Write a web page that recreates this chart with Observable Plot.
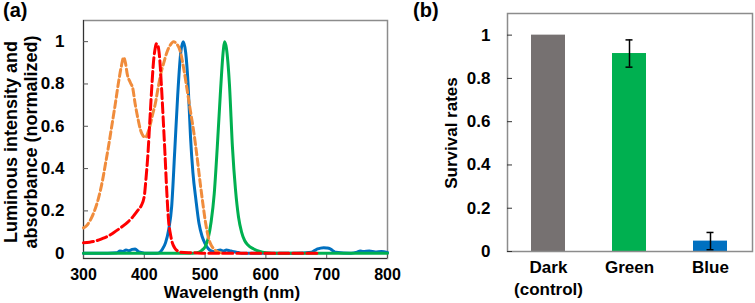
<!DOCTYPE html>
<html><head><meta charset="utf-8">
<script src="https://cdn.jsdelivr.net/npm/d3@7"></script>
<script src="https://cdn.jsdelivr.net/npm/@observablehq/plot@0.6"></script>
<style>
body{margin:0;background:#fff;}
#wrap{position:relative;width:755px;height:303px;overflow:hidden;font-family:"Liberation Sans",Arial,sans-serif;font-weight:bold;color:#000;}
.abs{position:absolute;white-space:nowrap;}
</style></head><body><div id="wrap"></div>
<script>
// ---------- Panel (a) data: spectra (wavelength nm, normalized value) ----------
const blueWl  = [300,320,340,355,360,365,370,375,380,385,390,395,400,420,425,430,435,440,445,450,455,460,464,468,472,476,480,485,490,495,500,505,510,515,520,525,530,535,540,545,550,555,560,600,650,675,680,685,690,695,700,705,710,715,740,750,755,760,770,780,790,800];
const blueVal = [0,0,0,0.002,0.01,0.008,0.015,0.012,0.018,0.02,0.008,0.004,0,0,0.003,0.02,0.05,0.11,0.22,0.48,0.75,0.95,1.0,0.95,0.8,0.55,0.38,0.25,0.14,0.08,0.045,0.022,0.011,0.008,0.012,0.015,0.01,0.015,0.012,0.008,0.006,0.003,0,0,0,0.004,0.012,0.02,0.024,0.026,0.025,0.022,0.012,0.004,0,0.005,0.01,0.008,0.01,0.006,0.008,0.004];

const greenWl  = [300,480,490,495,500,505,510,515,520,525,530,532,535,540,545,550,555,560,565,570,580,590,600,610,800];
const greenVal = [0,0,0.005,0.015,0.03,0.07,0.15,0.28,0.5,0.75,0.96,1.0,0.97,0.8,0.5,0.3,0.17,0.1,0.06,0.04,0.02,0.008,0.002,0,0];

const orangeWl  = [300,305,311,318,325,331,336,342,347,352,358,362,366,369,372,377,381,385,390,394,398,402,406,410,414,418,422,427,432,438,443,448,453,459,465,470,476,481,487,492,497,501,505,509,513,517,522,530];
const orangeVal = [0.12,0.13,0.155,0.2,0.264,0.34,0.42,0.52,0.61,0.7,0.815,0.88,0.925,0.9,0.846,0.807,0.78,0.705,0.63,0.58,0.555,0.547,0.57,0.61,0.66,0.705,0.77,0.846,0.9,0.956,0.985,1.0,0.99,0.956,0.87,0.78,0.67,0.58,0.45,0.33,0.22,0.14,0.08,0.044,0.025,0.013,0.005,0];

const redWl  = [300,310,320,330,340,350,360,370,380,390,395,400,403,406,409,412,415,418,420,422,425,428,431,434,437,440,443,446,450,455,460,480,500,550,600,650,690];
const redVal = [0.049,0.052,0.058,0.068,0.08,0.098,0.118,0.14,0.168,0.205,0.225,0.27,0.36,0.47,0.62,0.77,0.9,0.97,0.99,0.985,0.93,0.8,0.64,0.47,0.29,0.15,0.09,0.05,0.025,0.01,0.004,0.002,0,0,0,0,0];

const aYTicks = [0,0.2,0.4,0.6,0.8,1];
const aYLabels = ["0","0.2","0.4","0.6","0.8","1"];
const aXTicks = [300,400,500,600,700,800];

// ---------- Panel (b) data ----------
const categories = ["Dark","Green","Blue"];
const catLabels  = ["Dark\n(control)","Green","Blue"];
const survival   = [1.0,0.915,0.048];
const survErr    = [0,0.063,0.04];
const barColors  = ["#767171","#00B050","#0070C0"];
const bYTicks = [0,0.2,0.4,0.6,0.8,1];
const bYLabels = ["0","0.2","0.4","0.6","0.8","1"];

const zip = (w, v) => w.map((x, i) => ({w: x, v: v[i]}));
const blue = zip(blueWl, blueVal), green = zip(greenWl, greenVal),
      orange = zip(orangeWl, orangeVal), red = zip(redWl, redVal);

const font = {fontFamily: '"Liberation Sans", Arial, sans-serif', fontSize: "17px", fontWeight: "bold", color: "#000", background: "transparent", overflow: "visible"};

const plotA = Plot.plot({
  width: 390, height: 303, marginLeft: 83, marginRight: 3, marginTop: 20, marginBottom: 45,
  style: font,
  x: {domain: [300, 800]},
  y: {domain: [-0.025, 1.1]},
  marks: [
    Plot.frame({stroke: "#8c8c8c", strokeWidth: 1.5}),
    Plot.ruleX([300], {stroke: "#333", strokeWidth: 1}),
    Plot.ruleY([-0.025], {stroke: "#333", strokeWidth: 1}),
    Plot.axisY({ticks: aYTicks, tickSize: 5, fill: "none", stroke: "#555", dx: 5, label: null}),
    Plot.axisX({ticks: aXTicks, tickSize: 5, fill: "none", stroke: "#555", dy: -5, label: null}),
    Plot.axisY({ticks: aYTicks, tickSize: 0, stroke: "none", tickPadding: 19, tickFormat: d => aYLabels[aYTicks.indexOf(d)], label: null}),
    Plot.axisX({ticks: aXTicks, tickSize: 0, stroke: "none", tickPadding: 10.5, fontSize: 16, tickFormat: d => String(d), label: null}),
    Plot.line(blue, {x: "w", y: "v", stroke: "#0070C0", strokeWidth: 3, curve: "monotone-x"}),
    Plot.line(green, {x: "w", y: "v", stroke: "#00B050", strokeWidth: 3, curve: "monotone-x"}),
    Plot.line(orange, {x: "w", y: "v", stroke: "#F08C3C", strokeWidth: 3, strokeDasharray: "7,3.5", curve: "monotone-x"}),
    Plot.line(red, {x: "w", y: "v", stroke: "#FF0000", strokeWidth: 3, strokeDasharray: "10,4", curve: "monotone-x"})
  ]
});

const barData = categories.map((c, i) => ({c, v: survival[i], e: survErr[i], fill: barColors[i], lo: survival[i] - survErr[i], hi: survival[i] + survErr[i]}));
const errData = barData.filter(d => d.e > 0);

const plotB = Plot.plot({
  width: 365, height: 303, marginLeft: 117, marginRight: 3, marginTop: 13, marginBottom: 52,
  style: font,
  x: {domain: categories, paddingInner: 0.58, paddingOuter: 0.29},
  y: {domain: [0, 1.1]},
  color: {type: "identity"},
  marks: [
    Plot.barY(barData, {x: "c", y: "v", fill: "fill"}),
    Plot.ruleX(errData, {x: "c", y1: "lo", y2: "hi", stroke: "#000", strokeWidth: 1.5}),
    Plot.tickY(errData, {x: "c", y: "lo", stroke: "#000", strokeWidth: 1.5, insetLeft: 13.5, insetRight: 13.5}),
    Plot.tickY(errData, {x: "c", y: "hi", stroke: "#000", strokeWidth: 1.5, insetLeft: 13.5, insetRight: 13.5}),
    Plot.frame({stroke: "#8c8c8c", strokeWidth: 1.5}),
    Plot.axisY({ticks: bYTicks, tickSize: 5, fill: "none", stroke: "#333", dx: 5, label: null}),
    Plot.axisY({ticks: bYTicks, tickSize: 0, stroke: "none", tickPadding: 17, tickFormat: d => bYLabels[bYTicks.indexOf(d)], label: null}),
    Plot.axisX({tickSize: 0, stroke: "none", tickPadding: 7, lineHeight: 1.24, tickFormat: d => catLabels[categories.indexOf(d)], label: null})
  ]
});

const wrap = document.getElementById("wrap");
function place(el, left, top) { const d = document.createElement("div"); d.className = "abs"; d.style.left = left + "px"; d.style.top = top + "px"; d.appendChild(el); wrap.appendChild(d); return d; }
place(plotA, 0, 0);
place(plotB, 390, 0);

function label(text, css) { const d = document.createElement("div"); d.className = "abs"; d.textContent = text; Object.assign(d.style, css); wrap.appendChild(d); return d; }
label("(a)", {left: "3px", top: "0px", fontSize: "20px", lineHeight: "20px"});
label("(b)", {left: "413px", top: "0px", fontSize: "20px", lineHeight: "20px"});
label("Wavelength (nm)", {left: "132px", width: "200px", textAlign: "center", top: "287px", fontSize: "17px", lineHeight: "12px"});
const ya = label("", {left: "-99px", width: "240px", top: "122px", height: "40px", textAlign: "center", fontSize: "18px", lineHeight: "20px", whiteSpace: "pre", transform: "rotate(-90deg)", transformOrigin: "50% 50%"});
ya.textContent = "Luminous intensity and\nabsorbance (normalized)";
label("Survival rates", {left: "352px", width: "200px", top: "124px", height: "18px", textAlign: "center", fontSize: "17px", lineHeight: "18px", transform: "rotate(-90deg)", transformOrigin: "50% 50%"});
</script></body></html>
